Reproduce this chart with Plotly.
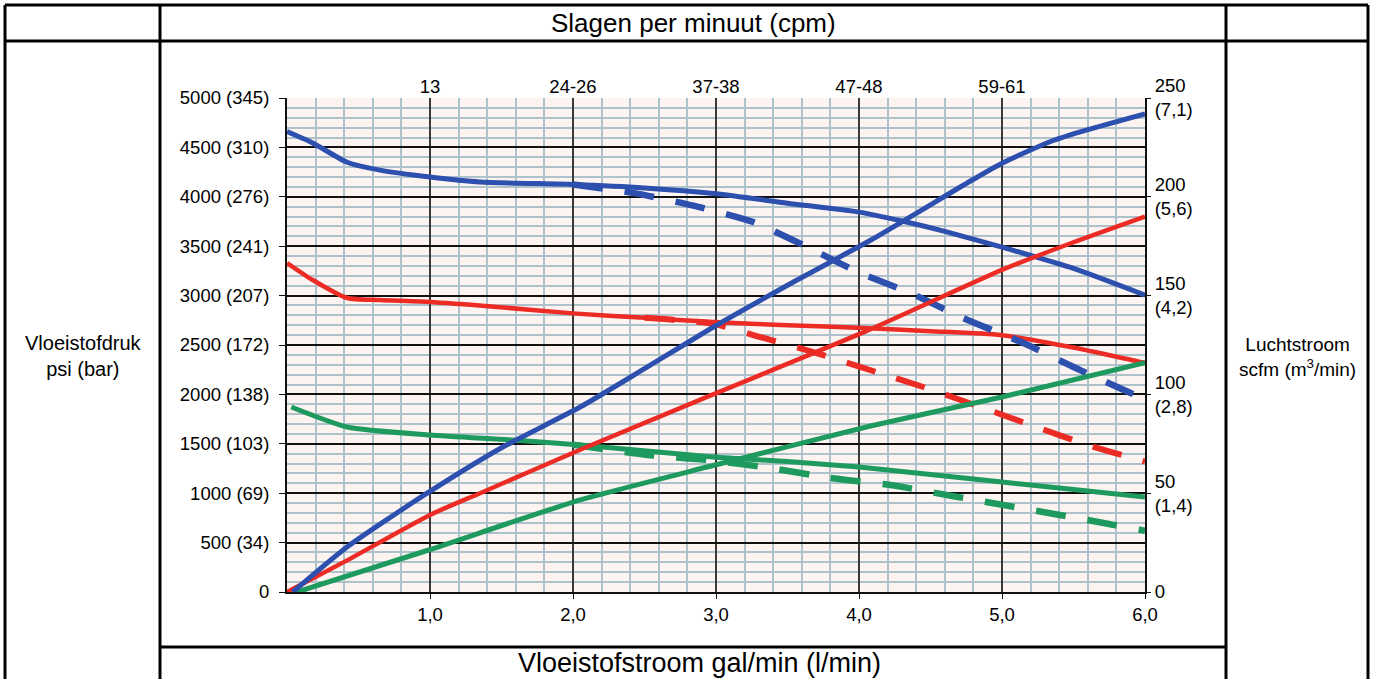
import plotly.graph_objects as go

# ---------------- data ----------------
x_tick_vals = [1, 2, 3, 4, 5, 6]
x_tick_text = ["1,0", "2,0", "3,0", "4,0", "5,0", "6,0"]

cpm_tick_vals = [1, 2, 3, 4, 5]
cpm_tick_text = ["13", "24-26", "37-38", "47-48", "59-61"]

psi_tick_vals = [0, 500, 1000, 1500, 2000, 2500, 3000, 3500, 4000, 4500, 5000]
psi_tick_text = ["0", "500 (34)", "1000 (69)", "1500 (103)", "2000 (138)", "2500 (172)",
                 "3000 (207)", "3500 (241)", "4000 (276)", "4500 (310)", "5000 (345)"]

scfm_tick_vals = [0, 50, 100, 150, 200, 250]
scfm_tick_text = ["0", "50<br>(1,4)", "100<br>(2,8)", "150<br>(4,2)", "200<br>(5,6)", "250<br>(7,1)"]

# Blue (pressure, psi)
blue_solid_x = [0, 0.18, 0.42, 0.65, 1.0, 1.35, 2.0, 2.5, 3.0, 3.5, 4.0, 4.3, 4.6, 5.0, 5.5, 6.0]
blue_solid_y = [4660, 4545, 4350, 4270, 4200, 4150, 4125, 4090, 4030, 3935, 3845, 3755, 3650, 3490, 3275, 3005]
blue_dash_x = [2.0, 2.42, 2.87, 3.26, 3.61, 3.99, 4.36, 4.73, 5.15, 5.5, 5.9, 6.0]
blue_dash_y = [4125, 4040, 3900, 3745, 3512, 3240, 3026, 2773, 2520, 2277, 2014, 1960]
# Blue (air, scfm)
blue_air_x = [0.04, 0.42, 0.98, 1.5, 2.05, 2.5, 2.98, 3.57, 4.08, 4.78, 5.0, 5.34, 5.6, 6.0]
blue_air_y = [0, 22.8, 50, 73, 93.6, 113, 134, 158, 178, 208, 217, 228, 234, 242]

# Red
red_solid_x = [0, 0.18, 0.42, 0.65, 1.0, 1.47, 2.0, 2.5, 2.98, 3.5, 4.03, 4.5, 4.99, 5.48, 5.97, 6.0]
red_solid_y = [3330, 3158, 2976, 2955, 2935, 2885, 2820, 2775, 2733, 2700, 2672, 2640, 2601, 2480, 2328, 2320]
red_dash_x = [2.5, 2.98, 3.26, 3.68, 4.12, 4.45, 4.85, 5.24, 5.6, 5.96, 6.0]
red_dash_y = [2775, 2715, 2601, 2429, 2227, 2075, 1872, 1670, 1488, 1336, 1320]
red_air_x = [0, 0.42, 1.0, 1.35, 2.05, 2.98, 4.05, 5.0, 5.5, 6.0]
red_air_y = [0, 16, 39, 50, 72, 100, 132, 163, 177, 190]

# Green
green_solid_x = [0.03, 0.42, 1.0, 1.58, 2.05, 2.98, 3.5, 4.0, 4.5, 5.0, 5.5, 6.0]
green_solid_y = [1872, 1670, 1589, 1538, 1488, 1366, 1320, 1265, 1190, 1113, 1037, 962]
green_dash_x = [2.0, 2.52, 2.94, 3.38, 3.8, 4.22, 4.69, 5.13, 5.6, 5.97, 6.0]
green_dash_y = [1490, 1387, 1336, 1255, 1154, 1083, 962, 850, 729, 628, 620]
green_air_x = [0.07, 0.98, 2.05, 2.98, 4.08, 5.0, 6.0]
green_air_y = [0, 21, 46.6, 64, 84, 98.7, 116]

# ---------------- styling ----------------
BLUE = "#2d4fae"
RED = "#ec2b25"
GREEN = "#1f9a5e"
FONT = "Liberation Sans, Arial, sans-serif"
DASH = "30px,22px"
TICK_SIZE = 18.5

fig = go.Figure()

def add(x, y, color, width, dash="solid", yaxis="y"):
    fig.add_trace(go.Scatter(x=x, y=y, mode="lines", yaxis=yaxis,
                             line=dict(color=color, width=width, dash=dash,
                                       shape="spline", smoothing=0.6),
                             showlegend=False, hoverinfo="skip"))

add(green_air_x, green_air_y, GREEN, 5, yaxis="y2")
add(red_air_x, red_air_y, RED, 4.5, yaxis="y2")
add(blue_air_x, blue_air_y, BLUE, 5, yaxis="y2")
add(green_dash_x, green_dash_y, GREEN, 6.5, DASH)
add(green_solid_x, green_solid_y, GREEN, 5)
add(red_dash_x, red_dash_y, RED, 6, DASH)
add(red_solid_x, red_solid_y, RED, 4.5)
add(blue_dash_x, blue_dash_y, BLUE, 6.5, DASH)
add(blue_solid_x, blue_solid_y, BLUE, 5)

# invisible trace to anchor the top (cpm) axis
fig.add_trace(go.Scatter(x=[0, 6], y=[0, 0], xaxis="x2", mode="lines",
                         line=dict(width=0), showlegend=False, hoverinfo="skip"))

W, H = 1377, 679
L, R, T, B = 287, 1145, 98, 592

def px(xp):
    return (xp - L) / (R - L)

def py(yp):
    return (B - yp) / (B - T)

minor_grid = dict(showgrid=True, gridcolor="#aec2cc", gridwidth=1.5)

fig.update_layout(
    width=W, height=H,
    margin=dict(l=L, r=W - R, t=T, b=H - B),
    paper_bgcolor="white",
    plot_bgcolor="#fdf4f1",
    font=dict(family=FONT, size=TICK_SIZE, color="black"),
    xaxis=dict(range=[0, 6], tickmode="array", tickvals=x_tick_vals, ticktext=x_tick_text,
               showgrid=True, gridcolor="#3a3a3a", gridwidth=1.5,
               minor=dict(dtick=0.2, tick0=0, **minor_grid),
               showline=True, linecolor="#111", linewidth=2,
               ticks="outside", ticklen=5, tickcolor="#111", zeroline=False,
               tickfont=dict(size=TICK_SIZE)),
    xaxis2=dict(range=[0, 6], overlaying="x", side="top", tickmode="array",
                tickvals=cpm_tick_vals, ticktext=cpm_tick_text, showgrid=False,
                showline=False, ticks="", zeroline=False, tickfont=dict(size=TICK_SIZE)),
    yaxis=dict(range=[0, 5000], tickmode="array", tickvals=psi_tick_vals, ticktext=psi_tick_text,
               showgrid=True, gridcolor="#111", gridwidth=2,
               minor=dict(dtick=100, tick0=0, **minor_grid),
               showline=True, linecolor="#111", linewidth=2,
               ticks="outside", ticklen=6, tickcolor="#111", zeroline=False,
               ticklabelstandoff=6, tickfont=dict(size=TICK_SIZE)),
    yaxis2=dict(range=[0, 250], overlaying="y", side="right", tickmode="array",
                tickvals=scfm_tick_vals, ticktext=scfm_tick_text, showgrid=False,
                showline=True, linecolor="#111", linewidth=2,
                ticks="outside", ticklen=4, tickcolor="#111", zeroline=False,
                tickfont=dict(size=TICK_SIZE)),
)

# table frame lines
LW = 3
frame = [
    (5, 5, 5, 679),
    (5, 5, 1368, 5),
    (1368, 5, 1368, 679),
    (160, 5, 160, 679),
    (1226, 5, 1226, 679),
    (5, 41, 1368, 41),
    (160, 647, 1226, 647),
]
for x0, y0, x1, y1 in frame:
    fig.add_shape(type="line", xref="paper", yref="paper",
                  x0=px(x0), y0=py(y0), x1=px(x1), y1=py(y1),
                  line=dict(color="black", width=LW))

def note(text, xp, yp, size):
    fig.add_annotation(text=text, xref="paper", yref="paper", x=px(xp), y=py(yp),
                       showarrow=False, xanchor="center", yanchor="middle",
                       font=dict(size=size, family=FONT, color="black"), align="center")

note("Slagen per minuut (cpm)", 693, 23, 26)
note("Vloeistofstroom gal/min (l/min)", 699, 663, 27)
note("Vloeistofdruk<br>psi (bar)", 83, 356, 20)
note("Luchtstroom<br>scfm (m<sup>3</sup>/min)", 1297, 357, 19)

fig.write_html("out.html", config={"displayModeBar": False},
               post_script="document.body.style.margin='0';document.body.style.overflow='hidden';")
